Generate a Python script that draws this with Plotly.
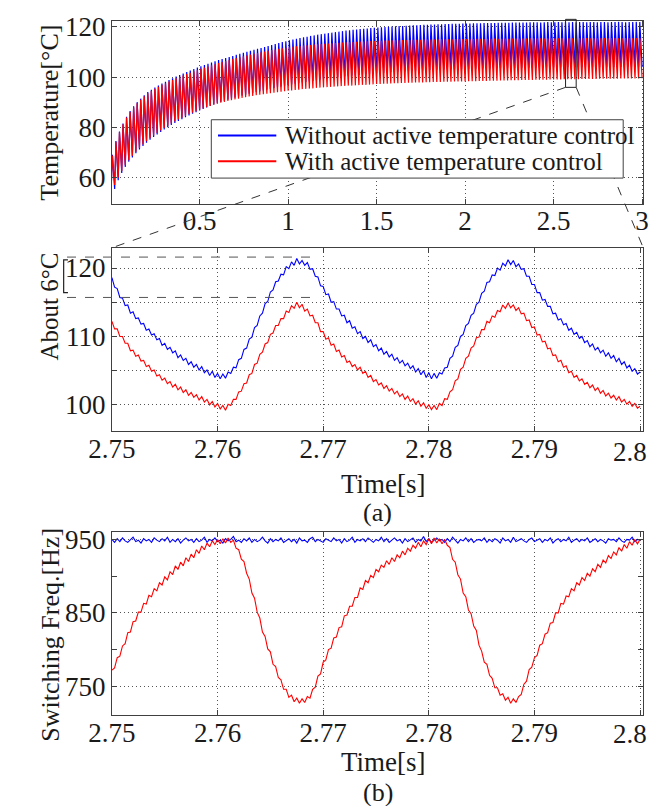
import numpy as np
import plotly.graph_objects as go

FONT = "Times New Roman, Liberation Serif, serif"
BLUE = "#0000ff"
RED = "#ff0000"
AX = "#404040"

# ---------------- top panel: envelope of every 50 Hz cycle (0..3 s) ----------------
PERIOD = 0.02
TROUGH_PHASE = 0.0005
PEAK_PHASE = 0.0075

blue_peaks = [
    69.0, 74.5, 78.3, 81.5, 84.2, 86.5, 88.4, 90.0, 91.4, 92.7,
    94.0, 94.9, 95.8, 96.6, 97.4, 98.1, 98.8, 99.5, 100.2, 100.8,
    101.4, 102.0, 102.6, 103.2, 103.8, 104.3, 104.8, 105.3, 105.8, 106.3,
    106.8, 107.2, 107.6, 108.0, 108.4, 108.9, 109.3, 109.7, 110.1, 110.5,
    110.9, 111.3, 111.6, 112.0, 112.4, 112.8, 113.2, 113.6, 114.0, 114.3,
    114.7, 115.0, 115.3, 115.6, 115.9, 116.1, 116.4, 116.6, 116.9, 117.1,
    117.3, 117.5, 117.7, 117.9, 118.1, 118.3, 118.5, 118.6, 118.8, 118.9,
    119.1, 119.2, 119.3, 119.5, 119.6, 119.7, 119.8, 119.9, 120.0, 120.1,
    120.2, 120.3, 120.3, 120.4, 120.5, 120.6, 120.6, 120.7, 120.8, 120.8,
    120.9, 120.9, 121.0, 121.0, 121.1, 121.1, 121.2, 121.2, 121.2, 121.3,
    121.3, 121.3, 121.4, 121.4, 121.4, 121.5, 121.5, 121.5, 121.5, 121.6,
    121.6, 121.6, 121.6, 121.7, 121.7, 121.7, 121.7, 121.7, 121.8, 121.8,
    121.8, 121.7, 121.8, 121.9, 121.8, 121.8, 121.9, 121.8, 121.9, 121.8,
    121.9, 121.8, 121.9, 121.9, 121.8, 121.9, 121.9, 121.8, 121.9, 121.9,
    121.8, 121.9, 121.9, 122.0, 121.9, 121.8, 121.9, 121.9, 122.0, 121.9,
]
blue_troughs = [
    55.0, 55.4, 58.9, 61.8, 64.2, 66.3, 68.0, 69.6, 71.1, 72.5,
    73.8, 75.0, 76.1, 77.1, 78.1, 79.1, 80.0, 80.9, 81.7, 82.5,
    83.2, 84.0, 84.7, 85.4, 86.0, 86.7, 87.3, 87.9, 88.5, 89.1,
    89.6, 90.1, 90.5, 91.0, 91.4, 91.8, 92.2, 92.6, 93.0, 93.4,
    93.7, 94.1, 94.4, 94.7, 95.0, 95.3, 95.6, 95.9, 96.2, 96.5,
    96.8, 97.0, 97.3, 97.5, 97.8, 98.0, 98.2, 98.4, 98.7, 98.9,
    99.1, 99.3, 99.5, 99.7, 99.9, 100.0, 100.2, 100.4, 100.5, 100.7,
    100.8, 101.0, 101.1, 101.2, 101.4, 101.5, 101.6, 101.7, 101.8, 101.9,
    102.0, 102.1, 102.2, 102.2, 102.3, 102.4, 102.5, 102.5, 102.6, 102.7,
    102.8, 102.8, 102.9, 102.9, 103.0, 103.0, 103.1, 103.1, 103.1, 103.2,
    103.2, 103.2, 103.3, 103.3, 103.3, 103.4, 103.4, 103.4, 103.5, 103.5,
    103.5, 103.5, 103.6, 103.6, 103.6, 103.6, 103.7, 103.7, 103.7, 103.7,
    103.7, 103.8, 103.7, 103.8, 103.8, 103.8, 103.9, 103.8, 103.8, 103.9,
    103.8, 103.9, 103.9, 103.9, 103.8, 103.9, 104.0, 103.9, 103.9, 104.0,
    103.9, 104.0, 104.0, 103.9, 104.0, 104.0, 104.1, 104.0, 104.0, 104.1,
    104.0,
]
red_peaks = [
    68.7, 74.2, 78.0, 81.2, 83.9, 86.1, 88.0, 89.6, 91.0, 92.3,
    93.5, 94.4, 95.3, 96.1, 96.9, 97.5, 98.2, 98.8, 99.5, 100.1,
    100.6, 101.2, 101.7, 102.3, 102.8, 103.3, 103.8, 104.2, 104.7, 105.1,
    105.6, 106.0, 106.4, 106.8, 107.2, 107.6, 107.9, 108.3, 108.6, 109.0,
    109.3, 109.6, 109.9, 110.2, 110.5, 110.8, 111.0, 111.3, 111.5, 111.7,
    111.9, 112.1, 112.3, 112.4, 112.6, 112.7, 112.8, 113.0, 113.1, 113.2,
    113.3, 113.4, 113.5, 113.6, 113.7, 113.8, 113.9, 113.9, 114.0, 114.1,
    114.2, 114.2, 114.3, 114.4, 114.4, 114.5, 114.5, 114.6, 114.6, 114.7,
    114.7, 114.7, 114.8, 114.8, 114.8, 114.9, 114.9, 114.9, 115.0, 115.0,
    115.0, 115.0, 115.1, 115.1, 115.1, 115.1, 115.1, 115.2, 115.2, 115.2,
    115.2, 115.3, 115.2, 115.3, 115.3, 115.2, 115.3, 115.3, 115.4, 115.3,
    115.3, 115.4, 115.3, 115.4, 115.4, 115.3, 115.4, 115.4, 115.5, 115.4,
    115.4, 115.5, 115.4, 115.4, 115.5, 115.4, 115.5, 115.5, 115.4, 115.5,
    115.5, 115.4, 115.5, 115.5, 115.6, 115.5, 115.5, 115.4, 115.5, 115.6,
    115.5, 115.5, 115.6, 115.5, 115.5, 115.6, 115.5, 115.5, 115.6, 115.5,
]
red_troughs = [
    56.0, 57.0, 60.0, 62.6, 64.9, 66.9, 68.6, 70.2, 71.7, 73.1,
    74.4, 75.6, 76.7, 77.7, 78.7, 79.7, 80.6, 81.5, 82.3, 83.1,
    83.8, 84.5, 85.2, 85.8, 86.4, 87.0, 87.5, 88.0, 88.5, 89.0,
    89.4, 89.8, 90.1, 90.5, 90.8, 91.1, 91.4, 91.7, 92.0, 92.3,
    92.5, 92.8, 93.0, 93.2, 93.4, 93.6, 93.8, 94.0, 94.2, 94.4,
    94.6, 94.7, 94.9, 95.0, 95.2, 95.3, 95.4, 95.5, 95.7, 95.8,
    95.9, 96.0, 96.1, 96.2, 96.3, 96.4, 96.5, 96.6, 96.6, 96.7,
    96.8, 96.9, 96.9, 97.0, 97.1, 97.2, 97.2, 97.3, 97.3, 97.4,
    97.5, 97.5, 97.6, 97.6, 97.7, 97.7, 97.8, 97.8, 97.8, 97.9,
    97.9, 98.0, 98.0, 98.0, 98.1, 98.1, 98.1, 98.2, 98.2, 98.2,
    98.2, 98.3, 98.3, 98.3, 98.4, 98.4, 98.4, 98.5, 98.5, 98.5,
    98.6, 98.6, 98.6, 98.7, 98.7, 98.7, 98.8, 98.8, 98.8, 98.8,
    98.9, 98.9, 98.9, 98.9, 99.0, 99.0, 99.0, 99.0, 99.1, 99.1,
    99.1, 99.1, 99.1, 99.2, 99.2, 99.2, 99.2, 99.2, 99.3, 99.3,
    99.3, 99.3, 99.3, 99.3, 99.4, 99.4, 99.4, 99.4, 99.4, 99.4,
    99.5,
]

# ---------------- zoomed window 2.75..2.80 s, sampled every 0.25 ms ----------------
ZOOM_T0 = 2.75
ZOOM_DT = 0.00025

temp_blue_zoom = [
    118.6, 117.2, 117.0, 115.7, 115.6, 114.5, 114.6, 113.4, 113.6, 112.6,
    112.7, 111.8, 111.9, 110.9, 111.1, 110.2, 110.4, 109.5, 109.7, 108.7,
    109.0, 108.1, 108.4, 107.6, 107.9, 106.9, 107.3, 106.5, 106.8, 105.9,
    106.3, 105.5, 105.9, 105.1, 105.6, 104.7, 105.1, 104.3, 104.9, 104.0,
    104.6, 103.8, 104.5, 103.9, 104.8, 104.6, 105.5, 105.4, 106.6, 106.8,
    108.1, 108.3, 109.6, 109.9, 111.3, 111.6, 113.0, 113.4, 114.8, 115.1,
    116.5, 116.8, 118.0, 118.1, 119.1, 119.0, 120.2, 119.9, 120.9, 120.4,
    121.4, 120.6, 121.1, 120.4, 120.8, 119.8, 119.9, 118.8, 118.7, 117.4,
    117.3, 116.1, 116.2, 115.0, 115.1, 114.0, 114.0, 113.0, 113.1, 112.0,
    112.3, 111.2, 111.4, 110.4, 110.7, 109.7, 110.0, 109.1, 109.5, 108.5,
    108.8, 107.9, 108.3, 107.4, 107.8, 107.0, 107.4, 106.5, 106.9, 106.1,
    106.5, 105.7, 106.1, 105.3, 105.7, 104.8, 105.3, 104.4, 105.0, 104.0,
    104.7, 103.8, 104.6, 103.9, 104.7, 104.5, 105.4, 105.5, 106.8, 107.1,
    108.4, 108.7, 110.0, 110.3, 111.6, 111.9, 113.1, 113.4, 114.7, 115.0,
    116.3, 116.6, 117.9, 118.0, 119.0, 118.9, 120.0, 119.7, 120.7, 120.3,
    121.2, 120.5, 121.1, 120.2, 120.6, 119.8, 119.9, 118.8, 118.8, 117.6,
    117.6, 116.4, 116.4, 115.3, 115.4, 114.4, 114.4, 113.3, 113.4, 112.4,
    112.6, 111.7, 111.9, 110.9, 111.2, 110.3, 110.6, 109.7, 110.0, 109.1,
    109.4, 108.5, 108.9, 108.0, 108.4, 107.6, 108.0, 107.1, 107.6, 106.8,
    107.2, 106.3, 106.8, 105.9, 106.3, 105.4, 105.8, 104.9, 105.3, 104.5,
    104.8,
]
temp_red_zoom = [
    112.2, 111.1, 111.1, 110.0, 110.0, 109.0, 109.0, 107.9, 108.0, 107.1,
    107.3, 106.4, 106.5, 105.6, 105.8, 104.9, 105.1, 104.2, 104.4, 103.6,
    103.9, 103.1, 103.4, 102.6, 103.0, 102.2, 102.6, 101.8, 102.2, 101.4,
    101.8, 101.1, 101.5, 100.7, 101.2, 100.4, 100.8, 100.0, 100.5, 99.7,
    100.2, 99.4, 99.9, 99.2, 100.1, 99.9, 100.8, 100.8, 101.9, 102.0,
    103.1, 103.2, 104.4, 104.6, 105.9, 106.1, 107.4, 107.7, 108.9, 109.1,
    110.3, 110.5, 111.6, 111.6, 112.6, 112.6, 113.7, 113.5, 114.5, 114.1,
    115.0, 114.2, 114.7, 113.7, 114.0, 113.0, 113.1, 112.0, 112.0, 110.7,
    110.7, 109.6, 109.8, 108.7, 108.9, 107.8, 108.0, 107.0, 107.2, 106.2,
    106.4, 105.6, 105.9, 105.1, 105.5, 104.6, 104.9, 104.0, 104.3, 103.4,
    103.7, 102.9, 103.2, 102.4, 102.8, 102.0, 102.4, 101.6, 102.0, 101.2,
    101.6, 100.8, 101.3, 100.5, 100.9, 100.1, 100.6, 99.8, 100.3, 99.5,
    100.0, 99.3, 99.9, 99.3, 100.2, 99.9, 100.9, 100.8, 101.9, 102.2,
    103.5, 103.8, 105.2, 105.5, 106.8, 107.1, 108.3, 108.6, 109.8, 109.9,
    111.0, 111.0, 112.2, 112.0, 113.0, 112.8, 113.8, 113.6, 114.6, 114.1,
    114.9, 114.2, 114.6, 113.8, 114.2, 113.3, 113.4, 112.3, 112.4, 111.3,
    111.4, 110.2, 110.3, 109.2, 109.3, 108.2, 108.3, 107.2, 107.3, 106.3,
    106.5, 105.5, 105.7, 104.7, 104.9, 104.0, 104.3, 103.5, 103.8, 103.0,
    103.3, 102.5, 102.9, 102.1, 102.5, 101.7, 102.1, 101.3, 101.7, 101.0,
    101.4, 100.7, 101.2, 100.4, 100.8, 100.1, 100.5, 99.8, 100.2, 99.5,
    99.8,
]
freq_blue_zoom = [
    950, 946, 951, 947, 952, 948, 946, 950, 953, 947,
    949, 945, 951, 948, 950, 946, 952, 949, 947, 951,
    948, 953, 946, 950, 947, 951, 945, 949, 952, 948,
    950, 946, 951, 947, 949, 953, 946, 950, 948, 952,
    947, 949, 945, 951, 948, 950, 954, 947, 949, 946,
    951, 948, 952, 946, 950, 947, 949, 953, 948, 945,
    951, 947, 950, 948, 952, 946, 949, 951, 947, 950,
    945, 952, 948, 949, 946, 951, 953, 947, 950, 948,
    946, 951, 949, 947, 952, 948, 950, 945, 951, 947,
    949, 953, 946, 950, 948, 951, 947, 952, 949, 946,
    950, 948, 953, 947, 951, 946, 949, 952, 948, 950,
    945, 951, 947, 949, 952, 946, 950, 948, 954, 947,
    951, 946, 949, 952, 948, 950, 946, 951, 947, 953,
    949, 945, 950, 948, 952, 947, 951, 946, 949, 950,
    948, 952, 946, 950, 947, 951, 949, 945, 952, 948,
    950, 946, 953, 947, 949, 951, 948, 946, 950, 952,
    947, 949, 951, 946, 950, 948, 952, 945, 949, 951,
    947, 950, 948, 953, 946, 949, 951, 947, 950, 948,
    952, 946, 949, 951, 947, 950, 948, 945, 951, 949,
    950, 947, 952, 948, 946, 950, 949, 953, 947, 950,
    949,
]
freq_red_zoom = [
    772, 775, 789, 791, 805, 808, 823, 824, 838, 839,
    851, 851, 863, 862, 874, 872, 883, 880, 891, 888,
    899, 895, 906, 902, 914, 909, 919, 914, 925, 920,
    930, 925, 936, 931, 941, 936, 945, 940, 948, 943,
    950, 944, 951, 945, 952, 946, 949, 938, 936, 923,
    920, 904, 896, 877, 870, 851, 843, 824, 818, 801,
    797, 780, 777, 762, 759, 746, 746, 735, 738, 729,
    734, 727, 733, 728, 736, 734, 746, 749, 764, 767,
    783, 786, 800, 802, 816, 817, 830, 831, 846, 847,
    859, 859, 871, 871, 884, 882, 894, 891, 901, 898,
    909, 906, 915, 912, 921, 916, 925, 920, 929, 925,
    934, 929, 938, 934, 942, 938, 946, 940, 948, 943,
    951, 944, 952, 945, 951, 944, 950, 942, 939, 923,
    919, 902, 896, 877, 872, 854, 849, 832, 826, 806,
    798, 783, 780, 765, 761, 748, 748, 738, 740, 731,
    735, 727, 733, 728, 736, 739, 753, 757, 773, 776,
    789, 792, 806, 808, 821, 823, 836, 837, 850, 850,
    863, 862, 873, 872, 883, 880, 891, 888, 898, 894,
    904, 900, 910, 906, 916, 912, 922, 918, 928, 924,
    933, 929, 939, 934, 943, 938, 947, 942, 950, 944,
    950,
]

# axis ranges and panel placement
TOP_X = [0.005, 3.007]
TOP_Y = [49.5, 122.2]
ZOOM_X = [2.75, 2.8003]
MID_Y = [96.14, 122.96]
BOT_Y = [710.6, 960.0]
X_DOM = [0.1407, 0.9908]
TOP_DOM = [0.7556, 0.9845]
MID_DOM = [0.4702, 0.7004]
BOT_DOM = [0.1138, 0.3437]
W, H = 654, 806


def zigzag(troughs, peaks):
    k = np.arange(len(troughs))
    t_tr = TROUGH_PHASE + PERIOD * k
    t_pk = PEAK_PHASE + PERIOD * k[: len(peaks)]
    xs, ys = [], []
    for i in range(len(peaks)):
        xs += [t_tr[i], t_pk[i]]
        ys += [troughs[i], peaks[i]]
    xs.append(t_tr[len(peaks)])
    ys.append(troughs[len(peaks)])
    return xs, ys


def px(v, rng, dom):
    return dom[0] + (v - rng[0]) / (rng[1] - rng[0]) * (dom[1] - dom[0])


top_bx, top_by = zigzag(blue_troughs, blue_peaks)
top_rx, top_ry = zigzag(red_troughs, red_peaks)
t_zoom = ZOOM_T0 + ZOOM_DT * np.arange(len(temp_blue_zoom))

fig = go.Figure()
fig.add_trace(go.Scatter(x=top_bx, y=top_by, mode="lines", name="Without active temperature control",
                         line=dict(color=BLUE, width=1.2), xaxis="x", yaxis="y"))
fig.add_trace(go.Scatter(x=top_rx, y=top_ry, mode="lines", name="With active temperature control",
                         line=dict(color=RED, width=1.2), xaxis="x", yaxis="y"))
fig.add_trace(go.Scatter(x=t_zoom, y=temp_blue_zoom, mode="lines", line=dict(color=BLUE, width=1.1),
                         xaxis="x2", yaxis="y2"))
fig.add_trace(go.Scatter(x=t_zoom, y=temp_red_zoom, mode="lines", line=dict(color=RED, width=1.1),
                         xaxis="x2", yaxis="y2"))
fig.add_trace(go.Scatter(x=t_zoom, y=freq_blue_zoom, mode="lines", line=dict(color=BLUE, width=1.1),
                         xaxis="x3", yaxis="y3"))
fig.add_trace(go.Scatter(x=t_zoom, y=freq_red_zoom, mode="lines", line=dict(color=RED, width=1.1),
                         xaxis="x3", yaxis="y3"))

axis = dict(showline=True, linecolor=AX, linewidth=1, mirror="allticks", ticks="inside", ticklen=5,
            tickcolor=AX, showgrid=True, gridcolor="#555555", griddash="1px,3px", gridwidth=1,
            zeroline=False, tickfont=dict(family=FONT, size=27, color="#1a1a1a"))
# the last zoom tick label sits on the page edge; it is written separately below
zoom_ticks = [2.75, 2.76, 2.77, 2.78, 2.79, 2.80]
zoom_text = ["2.75", "2.76", "2.77", "2.78", "2.79", ""]
ZOOM_END_LABEL = "2.8"

fig.update_layout(
    width=W, height=H, margin=dict(l=0, r=0, t=0, b=0),
    paper_bgcolor="white", plot_bgcolor="white", showlegend=False,
    font=dict(family=FONT, color="#1a1a1a"),
    xaxis=dict(axis, ticklabelstandoff=-7, domain=X_DOM, range=TOP_X, anchor="y",
               tickvals=[0.5, 1, 1.5, 2, 2.5, 3], ticktext=["0.5", "1", "1.5", "2", "2.5", "3"]),
    yaxis=dict(axis, domain=TOP_DOM, range=TOP_Y, anchor="x", tickvals=[60, 80, 100, 120]),
    xaxis2=dict(axis, ticklabelstandoff=-7, domain=X_DOM, range=ZOOM_X, anchor="y2",
                tickvals=zoom_ticks, ticktext=zoom_text),
    yaxis2=dict(axis, domain=MID_DOM, range=MID_Y, anchor="x2", tickvals=[100, 105, 110, 115, 120],
                ticktext=["100", "", "110", "", "120"]),
    xaxis3=dict(axis, ticklabelstandoff=-7, domain=X_DOM, range=ZOOM_X, anchor="y3",
                tickvals=zoom_ticks, ticktext=zoom_text),
    yaxis3=dict(axis, domain=BOT_DOM, range=BOT_Y, anchor="x3", tickvals=[750, 850, 950],
                minor=dict(tickvals=[800, 900], ticks="inside", ticklen=5, tickcolor=AX, showgrid=False)),
)

shapes = []
# zoom box on the top panel and the dashed leader lines to the middle panel
box_t = [2.568, 2.628]
box_v = [95.9, 123.0]
bx0, bx1 = px(box_t[0], TOP_X, X_DOM), px(box_t[1], TOP_X, X_DOM)
by0, by1 = px(box_v[0], TOP_Y, TOP_DOM), px(box_v[1], TOP_Y, TOP_DOM)
dash = dict(color="#333333", width=1, dash="dash")
shapes.append(dict(type="line", xref="paper", yref="paper", x0=bx0, y0=by0, x1=X_DOM[0], y1=MID_DOM[1], line=dash))
shapes.append(dict(type="line", xref="paper", yref="paper", x0=bx1, y0=by0, x1=X_DOM[1], y1=MID_DOM[1], line=dash))
shapes.append(dict(type="rect", xref="paper", yref="paper", x0=bx0, y0=by0, x1=bx1, y1=by1,
                   line=dict(color="#222222", width=1)))

# legend drawn by hand (box, sample lines, text)
lg = dict(x0=196 / W, x1=627 / W, y0=1 - 171 / H, y1=1 - 112 / H)
shapes.append(dict(type="rect", xref="paper", yref="paper", fillcolor="white",
                   line=dict(color=AX, width=1), **lg))
for yy, col in [(128, BLUE), (154, RED)]:
    shapes.append(dict(type="line", xref="paper", yref="paper", x0=203 / W, x1=264 / W,
                       y0=1 - yy / H, y1=1 - yy / H, line=dict(color=col, width=2)))

# "About 6 C" marks on the middle panel
peak_marks = [121.6, 115.7]
mark_end = px(2.769, ZOOM_X, X_DOM)
for v in peak_marks:
    yy = px(v, MID_Y, MID_DOM)
    shapes.append(dict(type="line", xref="paper", yref="paper", x0=45 / W, x1=mark_end, y0=yy, y1=yy,
                       line=dict(color="#555555", width=1, dash="dash")))
br0, br1 = px(121.2, MID_Y, MID_DOM), px(116.4, MID_Y, MID_DOM)
shapes.append(dict(type="path", xref="paper", yref="paper",
                   path=f"M {46/W},{br0} L {41.5/W},{br0} L {41.5/W},{br1} L {46/W},{br1}",
                   line=dict(color="#222222", width=1.2)))
fig.update_layout(shapes=shapes)


def label(text, x, y, size=26, angle=0, anchor="center"):
    fig.add_annotation(text=text, x=x / W, y=1 - y / H, xref="paper", yref="paper", showarrow=False,
                       textangle=angle, xanchor=anchor, yanchor="middle",
                       font=dict(family=FONT, size=size, color="#1a1a1a"))


label("Temperature[°C]", 27, 105, angle=-90)
label("About 6°C", 27, 301, size=25, angle=-90)
label("Switching Freq.[Hz]", 28, 633, angle=-90)
label("Time[s]", 376, 480, size=27)
label("(a)", 370, 509, size=26)
label("Time[s]", 376, 762, size=27)
label("(b)", 370, 792, size=26)
label("Without active temperature control", 271, 128, size=25, anchor="left")
label("With active temperature control", 271, 154, size=25, anchor="left")
# end label of the two zoomed time axes, kept inside the page
label(ZOOM_END_LABEL, W, 448, size=27, anchor="right")
label(ZOOM_END_LABEL, W, 733, size=27, anchor="right")

fig.write_html("out.html", config={"displayModeBar": False},
               post_script="document.body.style.margin='0';")
